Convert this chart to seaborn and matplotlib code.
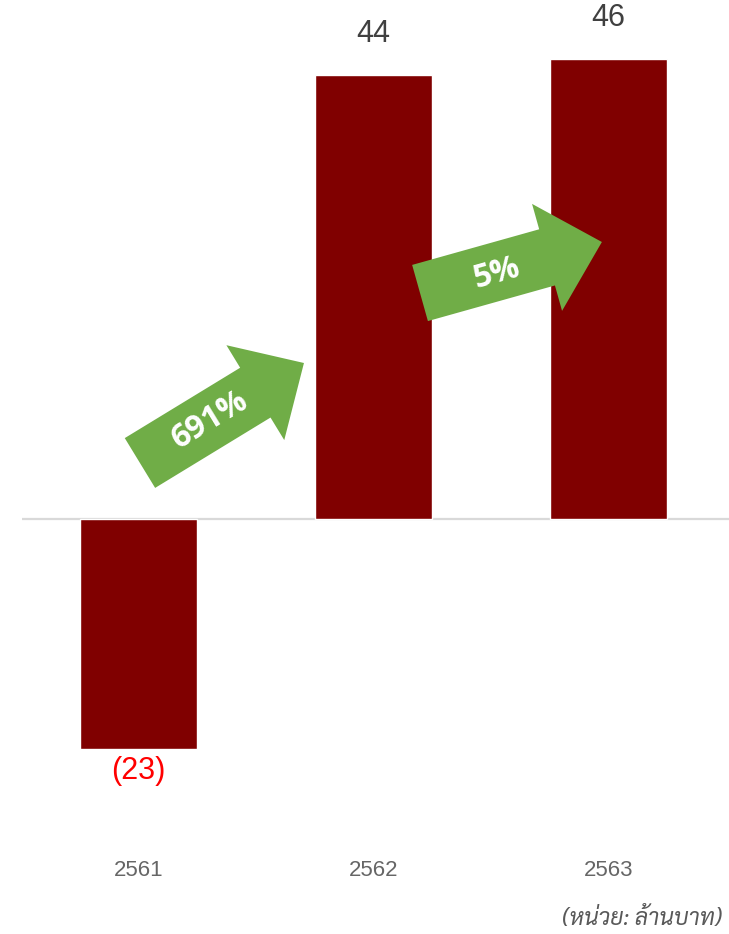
import matplotlib
matplotlib.use("Agg")
import matplotlib.pyplot as plt
from matplotlib import font_manager
import seaborn as sns
import pandas as pd

# --- data ---
years = ["2561", "2562", "2563"]
profit = [-23, 44.4, 46]
value_labels = ["(23)", "44", "46"]
growth_labels = ["691%", "5%"]
unit_note = "(หน่วย: ล้านบาท)"

BAR = "#800000"
GREEN = "#70AD47"

sns.set_theme(style="white")
plt.rcParams["font.family"] = ["Liberation Sans", "DejaVu Sans"]

# pick a font with Thai glyphs for the unit note
installed = {f.name for f in font_manager.fontManager.ttflist}
thai_font = next((n for n in ["Sarabun", "Noto Sans Thai", "Bai Jamjuree", "Anuphan"]
                  if n in installed), "DejaVu Sans")

df = pd.DataFrame({"year": years, "profit": profit})

fig = plt.figure(figsize=(7.29, 9.34), dpi=100)
ax = fig.add_axes([22 / 729, 89 / 934, 707 / 729, 845 / 934])

sns.barplot(data=df, x="year", y="profit", color=BAR, saturation=1,
            width=0.495, ax=ax, zorder=2)

ax.set_xlim(-0.496, 2.513)
ax.set_ylim(-32.6, 51.9)
ax.axhline(0, color="#D9D9D9", lw=1.6, zorder=1)

for s in ax.spines.values():
    s.set_visible(False)
ax.set_yticks([])
ax.set_xlabel("")
ax.set_ylabel("")
ax.tick_params(axis="x", length=0, pad=11, labelsize=16, labelcolor="#666666")

# value labels
for i, (v, lab) in enumerate(zip(profit, value_labels)):
    if v < 0:
        ax.annotate(lab, (i, v), xytext=(0, -5), textcoords="offset points",
                    ha="center", va="top", fontsize=22, color="#FF0000")
    else:
        ax.annotate(lab, (i, v), xytext=(0, 19), textcoords="offset points",
                    ha="center", va="bottom", fontsize=22, color="#404040")

# growth arrows between bars (tail -> tip in data coords)
arrows = [((0.006, 5.6), (0.704, 15.6), 31.4, (0.304, 9.9)),
          ((1.198, 22.6), (1.972, 27.7), 15.7, (1.526, 24.6))]
for (tail, tip, ang, txt_xy), lab in zip(arrows, growth_labels):
    ax.annotate("", xy=tip, xytext=tail,
                arrowprops=dict(arrowstyle="simple,head_length=41,head_width=80,tail_width=42",
                                mutation_scale=1, color=GREEN, lw=0,
                                shrinkA=0, shrinkB=0),
                zorder=3)
    ax.text(txt_xy[0], txt_xy[1], lab, rotation=ang, rotation_mode="anchor",
            ha="center", va="center", fontsize=23, fontweight="bold",
            color="white", family=["Open Sans", "DejaVu Sans"], zorder=4)

fig.text(722 / 729, 1 - 918 / 934, unit_note, ha="right", va="center",
         fontsize=16.5, style="italic", color="#595959", family=[thai_font, "DejaVu Sans"])

fig.savefig("out.png", dpi=100)
